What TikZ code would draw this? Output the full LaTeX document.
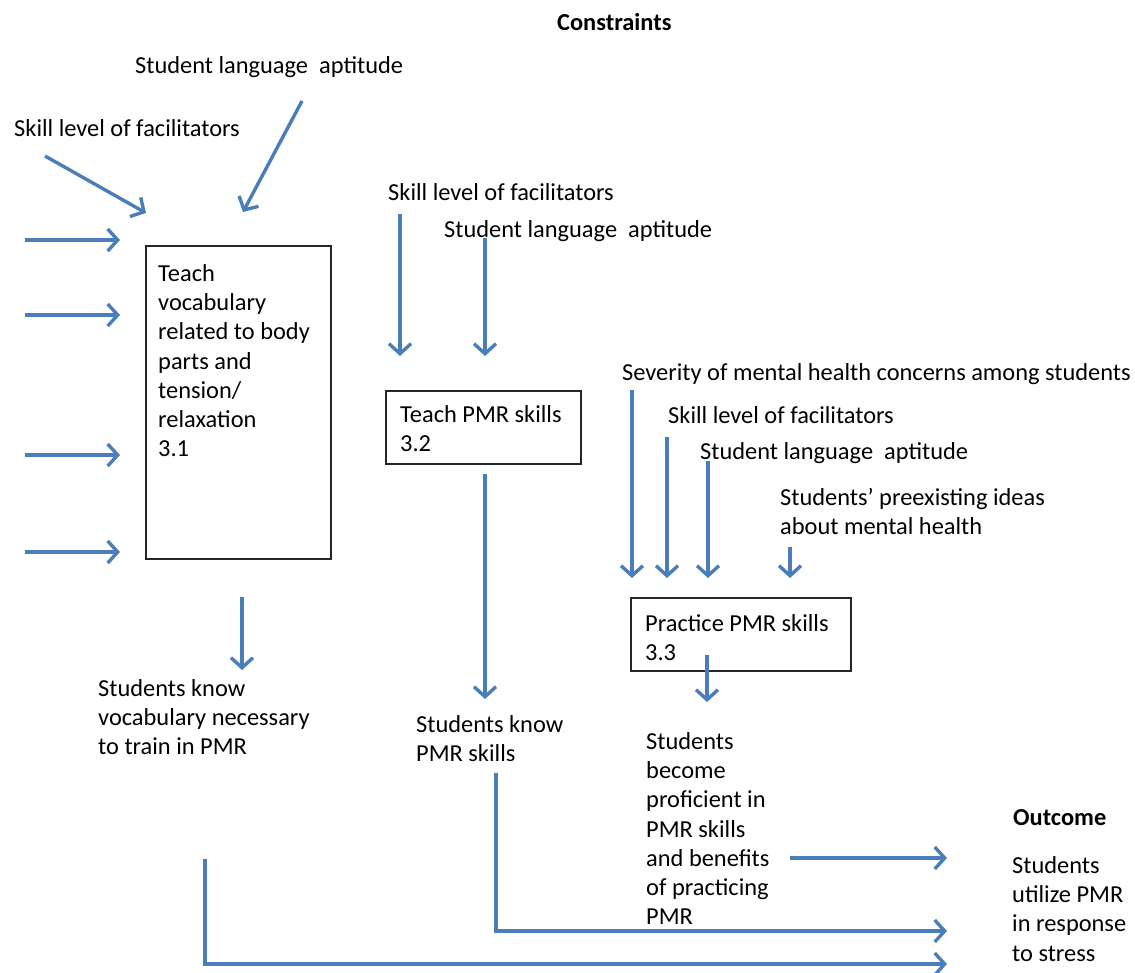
\documentclass[tikz,border=0pt]{standalone}
\usepackage{fontspec}
\setmainfont{Carlito}
\usetikzlibrary{arrows.meta}
\definecolor{arr}{HTML}{4A7EBB}
\tikzset{
  x=1pt,y=-1pt,
  lbl/.style={inner sep=0pt,anchor=north west,align=left,font=\fontsize{24.4}{29.3}\selectfont},
  blbl/.style={lbl,font=\fontsize{24.4}{29.3}\selectfont\bfseries},
  boxn/.style={draw=black!85,line width=2pt,inner sep=0pt},
  flow/.style={draw=arr,line width=3.4pt,-{Straight Barb[length=10pt,width=22pt,line width=3.4pt]}}
}
\begin{document}
\begin{tikzpicture}
\useasboundingbox (0,0) rectangle (1135,972);
% boxes
\node[boxn,minimum width=185,minimum height=313,anchor=north west] (b1) at (145,245) {};
\node[boxn,minimum width=195,minimum height=73,anchor=north west] (b2) at (385,390) {};
\node[boxn,minimum width=220,minimum height=73,anchor=north west] (b3) at (630,597) {};
% texts
\node[blbl] (constr) at (557,13) {Constraints};
\node[lbl] (t1) at (135,56) {Student language~~aptitude};
\node[lbl] (t2) at (14,119) {Skill level of facilitators};
\node[lbl] (b1t) at (158,264) {Teach\\vocabulary\\related to body\\parts and\\tension/\\relaxation\\3.1};
\node[lbl] (o1) at (98,679) {Students know\\vocabulary necessary\\to train in PMR};
\node[lbl] (t3) at (388,183) {Skill level of facilitators};
\node[lbl] (t4) at (444,220) {Student language~~aptitude};
\node[lbl] (b2t) at (400,405) {Teach PMR skills\\3.2};
\node[lbl] (o2) at (416,715) {Students know\\PMR skills};
\node[lbl] (t5) at (622,363) {Severity of mental health concerns among students};
\node[lbl] (t6) at (668,406) {Skill level of facilitators};
\node[lbl] (t7) at (700,442) {Student language~~aptitude};
\node[lbl] (t8) at (780,488) {Students’ preexisting ideas\\about mental health};
\node[lbl] (b3t) at (645,614) {Practice PMR skills\\3.3};
\node[lbl] (o3) at (646,732) {Students\\become\\proficient in\\PMR skills\\and benefits\\of practicing\\PMR};
\node[blbl] (outc) at (1013,809) {Outcome};
\node[lbl] (o4) at (1012,856) {Students\\utilize PMR\\in response\\to stress};
% coordinates
\coordinate (a1s) at (45,156); \coordinate (a1e) at (146,213);
\coordinate (a2s) at (302,101); \coordinate (a2e) at (243,212);
\coordinate (h1s) at (25,240); \coordinate (h1e) at (120,240);
\coordinate (h2s) at (25,315); \coordinate (h2e) at (120,315);
\coordinate (h3s) at (25,455); \coordinate (h3e) at (120,455);
\coordinate (h4s) at (25,552); \coordinate (h4e) at (120,552);
\coordinate (v1s) at (242,597); \coordinate (v1e) at (242,670);
\coordinate (v2s) at (400,214); \coordinate (v2e) at (400,356);
\coordinate (v3s) at (485,238); \coordinate (v3e) at (485,356);
\coordinate (v4s) at (485,474); \coordinate (v4e) at (485,699);
\coordinate (v5s) at (632,390); \coordinate (v5e) at (632,578);
\coordinate (v6s) at (667,437); \coordinate (v6e) at (667,578);
\coordinate (v7s) at (708,461); \coordinate (v7e) at (708,578);
\coordinate (v8s) at (790,547); \coordinate (v8e) at (790,578);
\coordinate (v9s) at (707,655); \coordinate (v9e) at (707,702);
\coordinate (p1s) at (790,858); \coordinate (p1e) at (947,858);
\coordinate (p2s) at (496,773); \coordinate (p2c) at (496,931); \coordinate (p2e) at (947,931);
\coordinate (p3s) at (205,859); \coordinate (p3c) at (205,964); \coordinate (p3e) at (947,964);
% arrows
\draw[flow] (a1s) -- (a1e);
\draw[flow] (a2s) -- (a2e);
\draw[flow] (h1s) -- (h1e);
\draw[flow] (h2s) -- (h2e);
\draw[flow] (h3s) -- (h3e);
\draw[flow] (h4s) -- (h4e);
\draw[flow] (v1s) -- (v1e);
\draw[flow] (v2s) -- (v2e);
\draw[flow] (v3s) -- (v3e);
\draw[flow] (v4s) -- (v4e);
\draw[flow] (v5s) -- (v5e);
\draw[flow] (v6s) -- (v6e);
\draw[flow] (v7s) -- (v7e);
\draw[flow] (v8s) -- (v8e);
\draw[flow] (v9s) -- (v9e);
\draw[flow] (p1s) -- (p1e);
\draw[flow] (p2s) -- (p2c) -- (p2e);
\draw[flow] (p3s) -- (p3c) -- (p3e);
\end{tikzpicture}
\end{document}
